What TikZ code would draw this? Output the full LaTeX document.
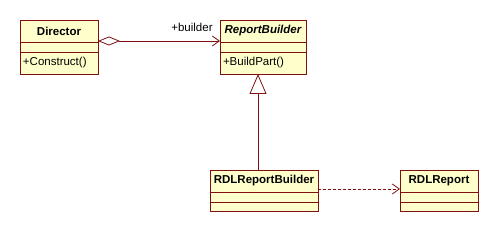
\documentclass[tikz,border=0pt]{standalone}
\usepackage{fontspec}
\setmainfont{Liberation Sans}
\usepackage{tikz}
\usetikzlibrary{arrows.meta,positioning}
\definecolor{umlline}{RGB}{128,16,16}
\definecolor{umlfill}{RGB}{255,255,204}

\begin{document}
\begin{tikzpicture}[x=1pt, y=-1pt,
  classname/.style={rectangle, draw=umlline, fill=umlfill, line width=0.8pt, inner sep=0pt, outer sep=0pt, minimum height=22pt, font=\fontsize{11.5}{13}\selectfont\bfseries},
  compart/.style={rectangle, draw=umlline, fill=umlfill, line width=0.8pt, inner sep=0pt, outer sep=0pt, minimum height=10pt},
  oper/.style={compart, minimum height=22pt, inner xsep=3pt, align=left, font=\fontsize{11.5}{13}\selectfont},
  aggr/.style={{Diamond[open, length=22pt, width=9pt]}-{Straight Barb[length=7pt, width=10pt]}, line width=0.8pt, draw=umlline},
  gen/.style={-{Triangle[open, length=20pt, width=17pt]}, line width=0.8pt, draw=umlline},
  dep/.style={-{Straight Barb[length=7pt, width=10pt]}, dash pattern=on 3pt off 2pt, line width=0.8pt, draw=umlline}
]
\fill[white] (0,0) rectangle (499,232);
\useasboundingbox (0,0) rectangle (499,232);

% Director
\node[classname, minimum width=78pt, anchor=north west] (dirN) at (20,20) {Director};
\node[compart, minimum width=78pt, below=0pt of dirN] (dirA) {};
\node[oper, text width=72pt, below=0pt of dirA] (dirO) {+Construct()};

% ReportBuilder
\node[classname, minimum width=86pt, right=122pt of dirN] (rbN) {\itshape ReportBuilder};
\node[compart, minimum width=86pt, below=0pt of rbN] (rbA) {};
\node[oper, text width=80pt, below=0pt of rbA] (rbO) {+BuildPart()};

% RDLReportBuilder
\node[classname, minimum width=108pt, below=96pt of rbO, xshift=1pt] (rdlbN) {RDLReportBuilder};
\node[compart, minimum width=108pt, below=0pt of rdlbN] (rdlbA) {};
\node[compart, minimum width=108pt, minimum height=9pt, below=0pt of rdlbA] (rdlbO) {};

% RDLReport
\node[classname, minimum width=78pt, right=82pt of rdlbN] (rdlN) {RDLReport};
\node[compart, minimum width=78pt, below=0pt of rdlN] (rdlA) {};
\node[compart, minimum width=78pt, minimum height=9pt, below=0pt of rdlA] (rdlO) {};

% relations
\draw[aggr] ([yshift=1pt]dirN.south east) -- ([yshift=1pt]rbN.south west)
  node[at end, anchor=south east, inner sep=0pt, xshift=-7pt, yshift=9pt, text=black, font=\fontsize{11.5}{13}\selectfont] (rbRole) {+builder};
\draw[gen] ([xshift=-6pt]rdlbN.north) -- ([xshift=-6pt]rdlbN.north |- rbO.south);
\draw[dep] ([yshift=3pt]rdlbN.south east) -- ([yshift=3pt]rdlN.south west);

\end{tikzpicture}
\end{document}
